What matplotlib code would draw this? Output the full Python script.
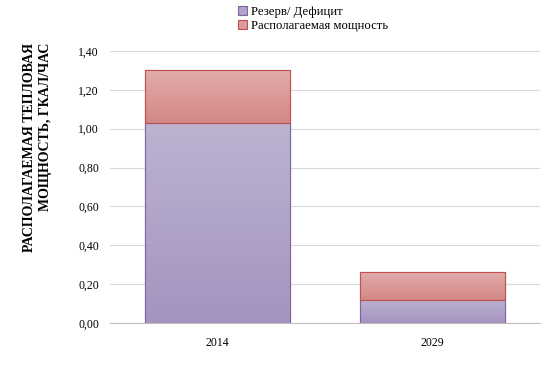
import numpy as np
import matplotlib
matplotlib.use('Agg')
import matplotlib.pyplot as plt
from matplotlib.colors import LinearSegmentedColormap

# data
years = ['2014', '2029']
reserve = [1.03, 0.12]      # Резерв/ Дефицит
available = [0.27, 0.14]    # Располагаемая мощность (stacked on top)
yticks = [0.0, 0.2, 0.4, 0.6, 0.8, 1.0, 1.2, 1.4]

plt.rcParams['font.family'] = ['Liberation Serif', 'DejaVu Serif']

fig = plt.figure(figsize=(5.54, 3.69), dpi=100)
ax = fig.add_axes([110 / 554, 1 - 323 / 369, 430 / 554, 272 / 369])

x = np.arange(len(years))
width = 0.67

b1 = ax.bar(x, reserve, width, color='#b0a3c8', edgecolor='#8064a2', linewidth=0.8,
            label='Резерв/ Дефицит', zorder=2)
b2 = ax.bar(x, available, width, bottom=reserve, color='#da9c9b', edgecolor='#c0504d',
            linewidth=0.8, label='Располагаемая мощность', zorder=2)

# vertical gradient inside each bar
grad = np.linspace(0, 1, 256).reshape(-1, 1)
cm_purple = LinearSegmentedColormap.from_list('p', ['#a593c0', '#bcb4d1'])
cm_red = LinearSegmentedColormap.from_list('r', ['#d48886', '#e1acab'])
for bars, cm in [(b1, cm_purple), (b2, cm_red)]:
    for rect in bars:
        x0, y0 = rect.get_x(), rect.get_y()
        w, h = rect.get_width(), rect.get_height()
        im = ax.imshow(grad, cmap=cm, origin='lower', aspect='auto',
                       extent=[x0, x0 + w, y0, y0 + h], zorder=2.1)
        im.set_clip_path(rect)
        edge = plt.Rectangle((x0, y0), w, h, fill=False,
                             edgecolor=rect.get_edgecolor(), linewidth=0.8, zorder=2.2)
        ax.add_patch(edge)

ax.set_xlim(-0.5, 1.5)
ax.set_ylim(0, 1.4)
ax.set_yticks(yticks)
ax.set_yticklabels([f'{v:.2f}'.replace('.', ',') for v in yticks], fontsize=8.5)
ax.set_xticks(x)
ax.set_xticklabels(years, fontsize=8.5)
ax.tick_params(length=0, pad=8)
ax.tick_params(axis='x', pad=10)
ax.grid(axis='y', color='#d9d9d9', linewidth=0.8, zorder=0)
ax.set_axisbelow(True)
for s in ['top', 'right', 'left']:
    ax.spines[s].set_visible(False)
ax.spines['bottom'].set_color('#bfbfbf')

# axis title, placed by hand like in the original
fig.text(38 / 554, 1 - 43 / 369, 'РАСПОЛАГАЕМАЯ ТЕПЛОВАЯ\nМОЩНОСТЬ, ГКАЛ/ЧАС',
         rotation=90, fontsize=10, fontweight='bold', ha='center', va='top',
         multialignment='right', linespacing=1.3)

fig.legend(handles=[b1, b2], loc='upper left', bbox_to_anchor=(229 / 554, 1.008),
           frameon=False, fontsize=9.2, handlelength=0.7, handleheight=0.7,
           handletextpad=0.3, labelspacing=0.15, borderpad=0.2)

fig.savefig('out.png', dpi=100)
